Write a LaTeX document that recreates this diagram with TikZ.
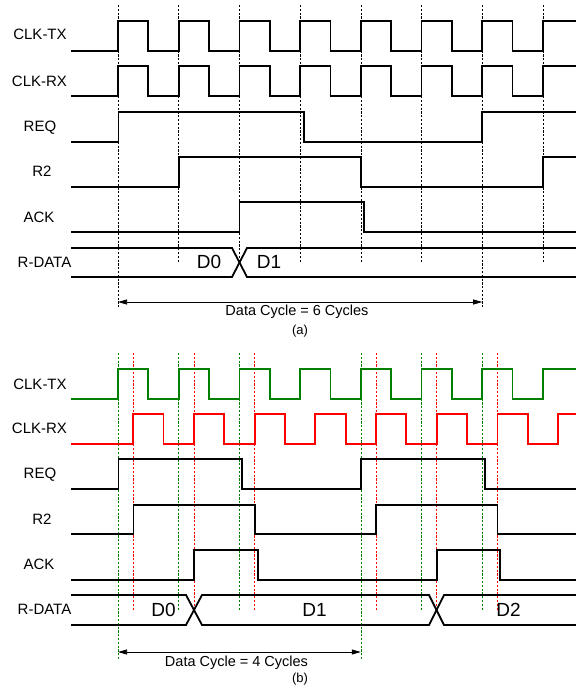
\documentclass[tikz,border=0pt]{standalone}
\usepackage{fontspec}
\setmainfont{Liberation Sans}
\usetikzlibrary{arrows.meta}
\definecolor{tgreen}{RGB}{0,128,0}
\definecolor{tred}{RGB}{255,0,0}
\tikzset{
  sig/.style={line width=1.8pt, line join=miter, line cap=rect},
  guide/.style={line width=0.6pt, dash pattern=on 2.2pt off 1.6pt},
  lbl/.style={anchor=base, inner sep=0pt, font=\fontsize{15}{15}\selectfont},
  dlbl/.style={anchor=base, inner sep=0pt, font=\fontsize{19}{19}\selectfont},
  cyc/.style={anchor=base, inner sep=0pt, font=\fontsize{14.5}{14.5}\selectfont},
  figcap/.style={anchor=base, inner sep=0pt, font=\fontsize{13}{13}\selectfont},
  dim/.style={line width=0.7pt, {Triangle[length=9pt,width=5pt]}-{Triangle[length=9pt,width=5pt]}}
}
\begin{document}
\begin{tikzpicture}[x=1pt,y=-1pt]
\useasboundingbox (0,0) rectangle (576,686);
% ---------------- (a) ----------------
\foreach \k in {1,2,3,4,5,7} \draw[guide] ({118+60.7*\k},5) -- ({118+60.7*\k},263);
\foreach \k in {0,6} \draw[guide] ({118+60.7*\k},5) -- ({118+60.7*\k},308);
\node[lbl] (atx) at (40,39) {CLK-TX};
\node[lbl] (arx) at (39.5,86) {CLK-RX};
\node[lbl] (areq) at (40,131) {REQ};
\node[lbl] (ar2) at (42,176) {R2};
\node[lbl] (aack) at (39,222) {ACK};
\node[lbl] (adata) at (44.5,267) {R-DATA};
\draw[sig] (72,51) foreach \k in {0,...,6} { -- ({118+60.7*\k},51) -- ({118+60.7*\k},21) -- ({148.35+60.7*\k},21) -- ({148.35+60.7*\k},51) } -- (542.9,51) -- (542.9,21) -- (575,21);
\draw[sig] (72,96) foreach \k in {0,...,6} { -- ({118+60.7*\k},96) -- ({118+60.7*\k},66) -- ({148.35+60.7*\k},66) -- ({148.35+60.7*\k},96) } -- (542.9,96) -- (542.9,66) -- (575,66);
\draw[sig] (72,142) -- (118.5,142) -- (118.5,112) -- (304,112) -- (304,142) -- (482.2,142) -- (482.2,112) -- (575,112);
\draw[sig] (72,187) -- (178.7,187) -- (178.7,157) -- (360.8,157) -- (360.8,187) -- (542.9,187) -- (542.9,157) -- (575,157);
\draw[sig] (72,232) -- (239.4,232) -- (239.4,202) -- (364,202) -- (364,232) -- (575,232);
\draw[sig] (72,248) -- (232,248) -- (247,277) -- (575,277);
\draw[sig] (72,277) -- (232,277) -- (247,248) -- (575,248);
\node[dlbl] (ad0) at (209,268) {D0};
\node[dlbl] (ad1) at (269,268) {D1};
\coordinate (aL) at (118,302);
\coordinate (aR) at (482.2,302);
\draw[dim] (aL) -- (aR);
\node[cyc] (acyc) at (297,315) {Data Cycle = 6 Cycles};
\node[figcap] (acap) at (300,334) {(a)};
% ---------------- (b) ----------------
\foreach \k in {1,2,5,6} \draw[guide, tgreen] ({118+60.7*\k},353) -- ({118+60.7*\k},610);
\foreach \k in {0,4} \draw[guide, tgreen] ({118+60.7*\k},353) -- ({118+60.7*\k},659);
\foreach \k in {0,1,2,4,5,6} \draw[guide, tred] ({133.2+60.7*\k},353) -- ({133.2+60.7*\k},610);
\node[lbl] (btx) at (40,389) {CLK-TX};
\node[lbl] (brx) at (39.5,433) {CLK-RX};
\node[lbl] (breq) at (40,478) {REQ};
\node[lbl] (br2) at (42,524) {R2};
\node[lbl] (back) at (39,569) {ACK};
\node[lbl] (bdata) at (44.5,614) {R-DATA};
\draw[sig, tgreen] (72,399) foreach \k in {0,...,6} { -- ({118+60.7*\k},399) -- ({118+60.7*\k},369) -- ({148.35+60.7*\k},369) -- ({148.35+60.7*\k},399) } -- (542.9,399) -- (542.9,369) -- (575,369);
\draw[sig, tred] (72,444) foreach \k in {0,...,6} { -- ({133.2+60.7*\k},444) -- ({133.2+60.7*\k},414) -- ({163.55+60.7*\k},414) -- ({163.55+60.7*\k},444) } -- (558.1,444) -- (558.1,414) -- (575,414);
\draw[sig] (72,489) -- (118.5,489) -- (118.5,459) -- (242,459) -- (242,489) -- (360.8,489) -- (360.8,459) -- (485,459) -- (485,489) -- (575,489);
\draw[sig] (72,534) -- (133.5,534) -- (133.5,505) -- (255,505) -- (255,534) -- (376,534) -- (376,505) -- (497.5,505) -- (497.5,534) -- (575,534);
\draw[sig] (72,580) -- (194,580) -- (194,550) -- (258,550) -- (258,580) -- (436.7,580) -- (436.7,550) -- (500,550) -- (500,580) -- (575,580);
\draw[sig] (72,595) -- (186,595) -- (202,625) -- (429,625) -- (444,595) -- (575,595);
\draw[sig] (72,625) -- (186,625) -- (202,595) -- (429,595) -- (444,625) -- (575,625);
\node[dlbl] (bd0) at (163.5,616) {D0};
\node[dlbl] (bd1) at (314.5,616) {D1};
\node[dlbl] (bd2) at (508.5,616) {D2};
\coordinate (bL) at (118,652);
\coordinate (bR) at (360.8,652);
\draw[dim] (bL) -- (bR);
\node[cyc] (bcyc) at (236.5,666) {Data Cycle = 4 Cycles};
\node[figcap] (bcap) at (300,682) {(b)};
\end{tikzpicture}
\end{document}
